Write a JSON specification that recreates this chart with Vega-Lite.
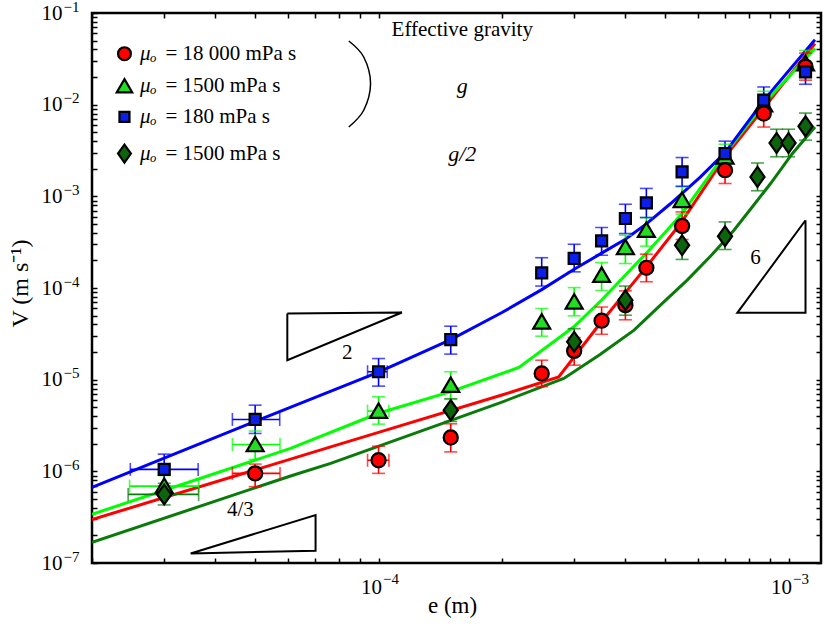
{
"$schema": "https://vega.github.io/schema/vega-lite/v6.json",
"width": 729, "height": 550,
"autosize": "none",
"padding": {"left": 92, "top": 13, "right": 5, "bottom": 69},
"background": "white",
"config": {
  "font": "Liberation Serif",
  "view": {"stroke": "black", "strokeWidth": 2.5},
  "axis": {"domain": false, "grid": false, "tickColor": "black", "tickWidth": 1.5, "labelColor": "black", "titleColor": "black", "labelFontSize": 21, "titleFontSize": 23, "titleFontWeight": "normal", "labelOverlap": false, "labelFlush": false, "labelFont": "Liberation Serif", "titleFont": "Liberation Serif", "labelLimit": 0},
  "text": {"font": "Liberation Serif", "fontSize": 21, "color": "black"}
},
"datasets": {
  "pts": [
    {"s":"G","e":3e-5,"V":6.9e-7,"lo":5.3e-7,"hi":9.0e-7,"elo":2.47e-5,"ehi":3.64e-5},
    {"s":"G","e":5e-5,"V":1.96e-6,"lo":1.35e-6,"hi":2.75e-6,"elo":4.4e-5,"ehi":5.75e-5},
    {"s":"G","e":1e-4,"V":4.54e-6,"lo":3.27e-6,"hi":6.5e-6,"elo":9.4e-5,"ehi":1.06e-4},
    {"s":"G","e":1.5e-4,"V":8.7e-6,"lo":6.1e-6,"hi":1.22e-5},
    {"s":"G","e":2.5e-4,"V":4.27e-5,"lo":2.98e-5,"hi":5.97e-5},
    {"s":"G","e":3e-4,"V":7.05e-5,"lo":4.97e-5,"hi":1.01e-4},
    {"s":"G","e":3.5e-4,"V":1.38e-4,"lo":9.4e-5,"hi":1.89e-4},
    {"s":"G","e":4e-4,"V":2.77e-4,"lo":1.85e-4,"hi":3.77e-4},
    {"s":"G","e":4.5e-4,"V":4.27e-4,"lo":2.86e-4,"hi":5.87e-4},
    {"s":"G","e":5.5e-4,"V":9.05e-4,"lo":6.4e-4,"hi":1.27e-3},
    {"s":"G","e":7e-4,"V":2.69e-3,"lo":1.9e-3,"hi":3.7e-3},
    {"s":"G","e":8.7e-4,"V":1.0e-2,"lo":7.0e-3,"hi":1.4e-2},
    {"s":"G","e":1.1e-3,"V":2.8e-2,"lo":2.0e-2,"hi":3.9e-2},
    {"s":"R","e":5e-5,"V":9.5e-7,"lo":6.8e-7,"hi":1.2e-6,"elo":4.4e-5,"ehi":5.75e-5},
    {"s":"R","e":1e-4,"V":1.32e-6,"lo":9.5e-7,"hi":1.88e-6,"elo":9.4e-5,"ehi":1.06e-4},
    {"s":"R","e":1.5e-4,"V":2.34e-6,"lo":1.63e-6,"hi":3.3e-6},
    {"s":"R","e":2.5e-4,"V":1.17e-5,"lo":8.4e-6,"hi":1.63e-5},
    {"s":"R","e":3e-4,"V":2.06e-5,"lo":1.44e-5,"hi":2.88e-5},
    {"s":"R","e":3.5e-4,"V":4.4e-5,"lo":3.13e-5,"hi":6.2e-5},
    {"s":"R","e":4e-4,"V":6.5e-5,"lo":4.5e-5,"hi":9.3e-5},
    {"s":"R","e":4.5e-4,"V":1.66e-4,"lo":1.17e-4,"hi":2.34e-4},
    {"s":"R","e":5.5e-4,"V":4.75e-4,"lo":3.38e-4,"hi":6.76e-4},
    {"s":"R","e":7e-4,"V":1.93e-3,"lo":1.38e-3,"hi":2.69e-3},
    {"s":"R","e":8.7e-4,"V":8.0e-3,"lo":5.7e-3,"hi":1.12e-2},
    {"s":"R","e":1.1e-3,"V":2.6e-2,"lo":1.85e-2,"hi":3.65e-2},
    {"s":"B","e":3e-5,"V":1.05e-6,"lo":6.9e-7,"hi":1.54e-6,"elo":2.48e-5,"ehi":3.63e-5},
    {"s":"B","e":5e-5,"V":3.68e-6,"lo":2.59e-6,"hi":5.27e-6,"elo":4.4e-5,"ehi":5.74e-5},
    {"s":"B","e":1e-4,"V":1.22e-5,"lo":8.5e-6,"hi":1.7e-5,"elo":9.4e-5,"ehi":1.05e-4},
    {"s":"B","e":1.5e-4,"V":2.74e-5,"lo":1.9e-5,"hi":3.83e-5},
    {"s":"B","e":2.5e-4,"V":1.46e-4,"lo":1.05e-4,"hi":2.14e-4},
    {"s":"B","e":3e-4,"V":2.1e-4,"lo":1.5e-4,"hi":3.0e-4},
    {"s":"B","e":3.5e-4,"V":3.27e-4,"lo":2.28e-4,"hi":4.57e-4},
    {"s":"B","e":4e-4,"V":5.73e-4,"lo":3.93e-4,"hi":8.2e-4},
    {"s":"B","e":4.5e-4,"V":8.47e-4,"lo":5.87e-4,"hi":1.22e-3},
    {"s":"B","e":5.5e-4,"V":1.85e-3,"lo":1.29e-3,"hi":2.65e-3},
    {"s":"B","e":7e-4,"V":2.93e-3,"lo":2.05e-3,"hi":4.0e-3},
    {"s":"B","e":8.7e-4,"V":1.12e-2,"lo":7.8e-3,"hi":1.56e-2},
    {"s":"B","e":1.1e-3,"V":2.28e-2,"lo":1.67e-2,"hi":2.8e-2},
    {"s":"D","e":3e-5,"V":5.6e-7,"lo":4.3e-7,"hi":7.4e-7,"elo":2.45e-5,"ehi":3.64e-5},
    {"s":"D","e":1.5e-4,"V":4.65e-6,"lo":3.5e-6,"hi":6.2e-6},
    {"s":"D","e":3e-4,"V":2.59e-5,"lo":1.85e-5,"hi":3.6e-5},
    {"s":"D","e":4e-4,"V":7.36e-5,"lo":5.05e-5,"hi":1.05e-4},
    {"s":"D","e":5.5e-4,"V":2.93e-4,"lo":2.05e-4,"hi":4.2e-4},
    {"s":"D","e":7e-4,"V":3.67e-4,"lo":2.63e-4,"hi":5.26e-4},
    {"s":"D","e":8.4e-4,"V":1.63e-3,"lo":1.15e-3,"hi":2.31e-3},
    {"s":"D","e":9.35e-4,"V":3.82e-3,"lo":2.7e-3,"hi":5.4e-3},
    {"s":"D","e":1e-3,"V":3.82e-3,"lo":2.7e-3,"hi":5.4e-3},
    {"s":"D","e":1.1e-3,"V":5.8e-3,"lo":4.1e-3,"hi":8.1e-3}
  ],
  "lines": [
    {"s":"D","e":2e-5,"V":1.68e-7},{"s":"D","e":6.1e-5,"V":8.9e-7},{"s":"D","e":7.64e-5,"V":1.22e-6},{"s":"D","e":2e-4,"V":5.7e-6},{"s":"D","e":2.83e-4,"V":1.03e-5},{"s":"D","e":3.47e-4,"V":1.88e-5},{"s":"D","e":4.2e-4,"V":3.47e-5},{"s":"D","e":4.87e-4,"V":6.5e-5},{"s":"D","e":5.66e-4,"V":1.22e-4},{"s":"D","e":6.5e-4,"V":2.3e-4},{"s":"D","e":7.36e-4,"V":4.27e-4},{"s":"D","e":8.2e-4,"V":7.9e-4},{"s":"D","e":9.04e-4,"V":1.38e-3},{"s":"D","e":1.02e-3,"V":2.9e-3},{"s":"D","e":1.16e-3,"V":5.71e-3},
    {"s":"R","e":2e-5,"V":2.98e-7},{"s":"R","e":6.1e-5,"V":1.36e-6},{"s":"R","e":7.64e-5,"V":1.85e-6},{"s":"R","e":1e-4,"V":2.66e-6},{"s":"R","e":2e-4,"V":6.8e-6},{"s":"R","e":2.75e-4,"V":1.07e-5},{"s":"R","e":3.47e-4,"V":4.1e-5},{"s":"R","e":4.5e-4,"V":1.7e-4},{"s":"R","e":5.45e-4,"V":5.05e-4},{"s":"R","e":7e-4,"V":2.69e-3},{"s":"R","e":1.16e-3,"V":4.64e-2},
    {"s":"G","e":2e-5,"V":3.4e-7},{"s":"G","e":6.1e-5,"V":1.78e-6},{"s":"G","e":1e-4,"V":4.3e-6},{"s":"G","e":1.5e-4,"V":7.4e-6},{"s":"G","e":2.2e-4,"V":1.36e-5},{"s":"G","e":3e-4,"V":3.8e-5},{"s":"G","e":3.5e-4,"V":7.4e-5},{"s":"G","e":4.5e-4,"V":2.4e-4},{"s":"G","e":5.5e-4,"V":6.5e-4},{"s":"G","e":7e-4,"V":2.9e-3},{"s":"G","e":8.75e-4,"V":1.05e-2},{"s":"G","e":1.16e-3,"V":4.1e-2},
    {"s":"B","e":2e-5,"V":6.7e-7},{"s":"B","e":3e-5,"V":1.39e-6},{"s":"B","e":5e-5,"V":3.5e-6},{"s":"B","e":1e-4,"V":1.21e-5},{"s":"B","e":1.5e-4,"V":2.74e-5},{"s":"B","e":2e-4,"V":5.4e-5},{"s":"B","e":2.5e-4,"V":9.6e-5},{"s":"B","e":3e-4,"V":1.6e-4},{"s":"B","e":3.5e-4,"V":2.4e-4},{"s":"B","e":4e-4,"V":3.4e-4},{"s":"B","e":4.5e-4,"V":5e-4},{"s":"B","e":5.15e-4,"V":8.3e-4},{"s":"B","e":6.1e-4,"V":1.63e-3},{"s":"B","e":7e-4,"V":3.0e-3},{"s":"B","e":8.75e-4,"V":1.15e-2},{"s":"B","e":1.16e-3,"V":5.1e-2}
  ],
  "tri": [
    {"t":"a","k":1,"e":5.99e-5,"V":5.27e-5},{"t":"a","k":2,"e":1.14e-4,"V":5.4e-5},{"t":"a","k":3,"e":5.99e-5,"V":1.63e-5},{"t":"a","k":4,"e":5.99e-5,"V":5.27e-5},
    {"t":"b","k":1,"e":3.48e-5,"V":1.27e-7},{"t":"b","k":2,"e":7.02e-5,"V":3.33e-7},{"t":"b","k":3,"e":7.02e-5,"V":1.36e-7},{"t":"b","k":4,"e":3.48e-5,"V":1.27e-7},
    {"t":"c","k":1,"e":1.1e-3,"V":5.48e-4},{"t":"c","k":2,"e":7.5e-4,"V":5.36e-5},{"t":"c","k":3,"e":1.1e-3,"V":5.36e-5},{"t":"c","k":4,"e":1.1e-3,"V":5.48e-4}
  ],
  "bracket": [
    {"k":1,"e":8.46e-5,"V":4.95e-2},{"k":2,"e":9.2e-5,"V":3.31e-2},{"k":3,"e":9.56e-5,"V":1.7e-2},{"k":4,"e":9.2e-5,"V":8.69e-3},{"k":5,"e":8.46e-5,"V":5.71e-3}
  ],
  "leg": [
    {"s":"R","txt":"= 18 000 mPa  s","V":3.6e-2},
    {"s":"G","txt":"= 1500 mPa  s","V":1.59e-2},
    {"s":"B","txt":"= 180 mPa  s","V":7.35e-3},
    {"s":"D","txt":"= 1500 mPa  s","V":2.93e-3}
  ]
},
"layer": [
  {
    "data": {"values": [{"e": 1e-4, "V": 1e-4}]},
    "mark": {"type": "point", "opacity": 0},
    "encoding": {
      "x": {"field": "e", "type": "quantitative", "scale": {"type": "log", "domain": [2e-5, 1.2e-3], "nice": false},
        "axis": {"orient": "bottom", "values": [2e-5,3e-5,4e-5,5e-5,6e-5,7e-5,8e-5,9e-5,1e-4,2e-4,3e-4,4e-4,5e-4,6e-4,7e-4,8e-4,9e-4,1e-3],
          "labelExpr": "abs(log(datum.value)/LN10-round(log(datum.value)/LN10))<0.001 ? '10' : ''",
          "tickSize": -5, "labelAlign": "right", "labelOffset": 3, "labelBaseline": "top",
          "labelFontSize": 21, "labelPadding": 18, "title": "e (m)", "titleFontSize": 23, "titleX": 360, "titleY": 42, "titleAlign": "center", "titleBaseline": "middle"}},
      "y": {"field": "V", "type": "quantitative", "scale": {"type": "log", "domain": [1e-7, 1e-1], "nice": false},
        "axis": {"orient": "left", "values": [1e-7,2e-7,3e-7,4e-7,5e-7,6e-7,7e-7,8e-7,9e-7,1e-6,2e-6,3e-6,4e-6,5e-6,6e-6,7e-6,8e-6,9e-6,1e-5,2e-5,3e-5,4e-5,5e-5,6e-5,7e-5,8e-5,9e-5,1e-4,2e-4,3e-4,4e-4,5e-4,6e-4,7e-4,8e-4,9e-4,1e-3,2e-3,3e-3,4e-3,5e-3,6e-3,7e-3,8e-3,9e-3,1e-2,2e-2,3e-2,4e-2,5e-2,6e-2,7e-2,8e-2,9e-2,1e-1],
          "labelExpr": "abs(log(datum.value)/LN10-round(log(datum.value)/LN10))<0.001 ? '10' : ''",
          "tickSize": -5, "labelAlign": "right", "labelBaseline": "middle",
          "labelFontSize": 21, "labelPadding": 35, "title": "V (m s⁻¹)", "titleFontSize": 24, "titleX": -72, "titleY": 270, "titleAngle": -90, "titleAlign": "center", "titleBaseline": "middle"}}
    }
  },
  {
    "data": {"values": [{"e": 1e-4, "V": 1e-4}]},
    "mark": {"type": "point", "opacity": 0},
    "encoding": {
      "x": {"field": "e", "type": "quantitative", "scale": {"type": "log", "domain": [2e-5, 1.2e-3], "nice": false},
        "axis": {"orient": "bottom", "values": [1e-4, 1e-3],
          "labelExpr": "round(log(datum.value)/LN10)==-4 ? '−4' : '−3'",
          "tickSize": -5, "tickOpacity": 0, "labelAlign": "left", "labelOffset": 4, "labelBaseline": "top",
          "labelFontSize": 15, "labelPadding": 13, "title": null}},
      "y": {"field": "V", "type": "quantitative", "scale": {"type": "log", "domain": [1e-7, 1e-1], "nice": false},
        "axis": {"orient": "left", "values": [1e-7,1e-6,1e-5,1e-4,1e-3,1e-2,1e-1],
          "labelExpr": "['−7','−6','−5','−4','−3','−2','−1'][round(log(datum.value)/LN10)+7]",
          "tickSize": -5, "tickOpacity": 0, "labelAlign": "left", "labelBaseline": "middle", "labelOffset": -7,
          "labelFontSize": 15, "labelPadding": 34, "title": null}}
    }
  },
  {
    "data": {"values": [{"e": 1e-4, "V": 1e-4}]},
    "mark": {"type": "point", "opacity": 0},
    "encoding": {
      "x": {"field": "e", "type": "quantitative", "scale": {"type": "log", "domain": [2e-5, 1.2e-3], "nice": false},
        "axis": {"orient": "top", "values": [2e-5,3e-5,4e-5,5e-5,6e-5,7e-5,8e-5,9e-5,1e-4,2e-4,3e-4,4e-4,5e-4,6e-4,7e-4,8e-4,9e-4,1e-3], "labels": false, "title": null, "tickSize": -5}},
      "y": {"field": "V", "type": "quantitative", "scale": {"type": "log", "domain": [1e-7, 1e-1], "nice": false},
        "axis": {"orient": "right", "values": [1e-7,2e-7,3e-7,4e-7,5e-7,6e-7,7e-7,8e-7,9e-7,1e-6,2e-6,3e-6,4e-6,5e-6,6e-6,7e-6,8e-6,9e-6,1e-5,2e-5,3e-5,4e-5,5e-5,6e-5,7e-5,8e-5,9e-5,1e-4,2e-4,3e-4,4e-4,5e-4,6e-4,7e-4,8e-4,9e-4,1e-3,2e-3,3e-3,4e-3,5e-3,6e-3,7e-3,8e-3,9e-3,1e-2,2e-2,3e-2,4e-2,5e-2,6e-2,7e-2,8e-2,9e-2,1e-1], "labels": false, "title": null, "tickSize": -5}}
    }
  },
  {
    "data": {"name": "tri"},
    "mark": {"type": "line", "color": "black", "strokeWidth": 2, "strokeJoin": "miter"},
    "encoding": {
      "x": {"field": "e", "type": "quantitative", "scale": {"type": "log", "domain": [2e-5, 1.2e-3], "nice": false}, "axis": null},
      "y": {"field": "V", "type": "quantitative", "scale": {"type": "log", "domain": [1e-7, 1e-1], "nice": false}, "axis": null},
      "detail": {"field": "t"},
      "order": {"field": "k", "type": "quantitative"}
    }
  },
  {
    "data": {"name": "bracket"},
    "mark": {"type": "line", "color": "black", "strokeWidth": 1.5, "interpolate": "cardinal"},
    "encoding": {
      "x": {"field": "e", "type": "quantitative", "scale": {"type": "log", "domain": [2e-5, 1.2e-3], "nice": false}, "axis": null},
      "y": {"field": "V", "type": "quantitative", "scale": {"type": "log", "domain": [1e-7, 1e-1], "nice": false}, "axis": null},
      "order": {"field": "k", "type": "quantitative"}
    }
  },
  {
    "data": {"name": "lines"},
    "mark": {"type": "line", "strokeWidth": 3, "clip": true},
    "encoding": {
      "x": {"field": "e", "type": "quantitative", "scale": {"type": "log", "domain": [2e-5, 1.2e-3], "nice": false}, "axis": null},
      "y": {"field": "V", "type": "quantitative", "scale": {"type": "log", "domain": [1e-7, 1e-1], "nice": false}, "axis": null},
      "color": {"field": "s", "type": "nominal", "scale": {"domain": ["R","G","B","D"], "range": ["#ff0000","#00ff00","#0000ff","#0a7a0a"]}, "legend": null}
    }
  },
  {
    "data": {"name": "pts"},
    "mark": {"type": "rule", "strokeWidth": 1.6},
    "encoding": {
      "x": {"field": "e", "type": "quantitative", "scale": {"type": "log", "domain": [2e-5, 1.2e-3], "nice": false}, "axis": null},
      "y": {"field": "lo", "type": "quantitative", "scale": {"type": "log", "domain": [1e-7, 1e-1], "nice": false}, "axis": null},
      "y2": {"field": "hi"},
      "color": {"field": "s", "type": "nominal", "scale": {"domain": ["R","G","B","D"], "range": ["#ff0000","#00ff00","#0000ff","#0a7a0a"]}, "legend": null}
    }
  },
  {
    "data": {"name": "pts"},
    "transform": [{"fold": ["lo", "hi"], "as": ["which", "val"]}],
    "mark": {"type": "tick", "orient": "horizontal", "size": 13, "thickness": 1.6},
    "encoding": {
      "x": {"field": "e", "type": "quantitative", "scale": {"type": "log", "domain": [2e-5, 1.2e-3], "nice": false}, "axis": null},
      "y": {"field": "val", "type": "quantitative", "scale": {"type": "log", "domain": [1e-7, 1e-1], "nice": false}, "axis": null},
      "color": {"field": "s", "type": "nominal", "scale": {"domain": ["R","G","B","D"], "range": ["#ff0000","#00ff00","#0000ff","#0a7a0a"]}, "legend": null}
    }
  },
  {
    "data": {"name": "pts"},
    "transform": [{"filter": "isValid(datum.elo)"}],
    "mark": {"type": "rule", "strokeWidth": 1.6},
    "encoding": {
      "x": {"field": "elo", "type": "quantitative", "scale": {"type": "log", "domain": [2e-5, 1.2e-3], "nice": false}, "axis": null},
      "x2": {"field": "ehi"},
      "y": {"field": "V", "type": "quantitative", "scale": {"type": "log", "domain": [1e-7, 1e-1], "nice": false}, "axis": null},
      "color": {"field": "s", "type": "nominal", "scale": {"domain": ["R","G","B","D"], "range": ["#ff0000","#00ff00","#0000ff","#0a7a0a"]}, "legend": null}
    }
  },
  {
    "data": {"name": "pts"},
    "transform": [{"filter": "isValid(datum.elo)"}, {"fold": ["elo", "ehi"], "as": ["which", "val"]}],
    "mark": {"type": "tick", "orient": "vertical", "size": 13, "thickness": 1.6},
    "encoding": {
      "x": {"field": "val", "type": "quantitative", "scale": {"type": "log", "domain": [2e-5, 1.2e-3], "nice": false}, "axis": null},
      "y": {"field": "V", "type": "quantitative", "scale": {"type": "log", "domain": [1e-7, 1e-1], "nice": false}, "axis": null},
      "color": {"field": "s", "type": "nominal", "scale": {"domain": ["R","G","B","D"], "range": ["#ff0000","#00ff00","#0000ff","#0a7a0a"]}, "legend": null}
    }
  },
  {
    "data": {"name": "pts"},
    "mark": {"type": "point", "filled": true, "stroke": "black", "strokeWidth": 2.2, "opacity": 1, "size": 200},
    "encoding": {
      "x": {"field": "e", "type": "quantitative", "scale": {"type": "log", "domain": [2e-5, 1.2e-3], "nice": false}, "axis": null},
      "y": {"field": "V", "type": "quantitative", "scale": {"type": "log", "domain": [1e-7, 1e-1], "nice": false}, "axis": null},
      "fill": {"field": "s", "type": "nominal", "scale": {"domain": ["R","G","B","D"], "range": ["#ff0000","#22dd22","#0b1fe8","#0d640d"]}, "legend": null},
      "shape": {"field": "s", "type": "nominal", "scale": {"domain": ["R","G","B","D"], "range": ["circle","M0,-1.1L1.2,0.95L-1.2,0.95Z","M-0.78,-0.78L0.78,-0.78L0.78,0.78L-0.78,0.78Z","M0,-1.4L1,0L0,1.4L-1,0Z"]}, "legend": null}
    }
  },
  {
    "data": {"name": "leg"},
    "mark": {"type": "point", "filled": true, "stroke": "black", "strokeWidth": 2.2, "opacity": 1, "size": 165},
    "encoding": {
      "x": {"datum": 2.4e-5, "type": "quantitative", "scale": {"type": "log", "domain": [2e-5, 1.2e-3], "nice": false}, "axis": null},
      "y": {"field": "V", "type": "quantitative", "scale": {"type": "log", "domain": [1e-7, 1e-1], "nice": false}, "axis": null},
      "fill": {"field": "s", "type": "nominal", "scale": {"domain": ["R","G","B","D"], "range": ["#ff0000","#22dd22","#0b1fe8","#0d640d"]}, "legend": null},
      "shape": {"field": "s", "type": "nominal", "scale": {"domain": ["R","G","B","D"], "range": ["circle","M0,-1.1L1.2,0.95L-1.2,0.95Z","M-0.78,-0.78L0.78,-0.78L0.78,0.78L-0.78,0.78Z","M0,-1.4L1,0L0,1.4L-1,0Z"]}, "legend": null}
    }
  },
  {
    "data": {"name": "leg"},
    "mark": {"type": "text", "text": "μₒ", "fontSize": 21, "fontStyle": "italic", "align": "left", "baseline": "middle", "color": "black"},
    "encoding": {
      "x": {"datum": 2.62e-5, "type": "quantitative", "scale": {"type": "log", "domain": [2e-5, 1.2e-3], "nice": false}, "axis": null},
      "y": {"field": "V", "type": "quantitative", "scale": {"type": "log", "domain": [1e-7, 1e-1], "nice": false}, "axis": null}
    }
  },
  {
    "data": {"name": "leg"},
    "mark": {"type": "text", "fontSize": 21, "align": "left", "baseline": "middle", "color": "black"},
    "encoding": {
      "x": {"datum": 3.02e-5, "type": "quantitative", "scale": {"type": "log", "domain": [2e-5, 1.2e-3], "nice": false}, "axis": null},
      "y": {"field": "V", "type": "quantitative", "scale": {"type": "log", "domain": [1e-7, 1e-1], "nice": false}, "axis": null},
      "text": {"field": "txt"}
    }
  },
  {
    "data": {"values": [{}]},
    "mark": {"type": "text", "text": "Effective gravity", "fontSize": 21, "align": "center", "baseline": "middle", "color": "black"},
    "encoding": {
      "x": {"datum": 1.6e-4, "type": "quantitative", "scale": {"type": "log", "domain": [2e-5, 1.2e-3], "nice": false}, "axis": null},
      "y": {"datum": 6.48e-2, "type": "quantitative", "scale": {"type": "log", "domain": [1e-7, 1e-1], "nice": false}, "axis": null}
    }
  },
  {
    "data": {"values": [{}]},
    "mark": {"type": "text", "text": "g", "fontSize": 22, "fontStyle": "italic", "align": "center", "baseline": "middle", "color": "black"},
    "encoding": {
      "x": {"datum": 1.6e-4, "type": "quantitative", "scale": {"type": "log", "domain": [2e-5, 1.2e-3], "nice": false}, "axis": null},
      "y": {"datum": 1.59e-2, "type": "quantitative", "scale": {"type": "log", "domain": [1e-7, 1e-1], "nice": false}, "axis": null}
    }
  },
  {
    "data": {"values": [{}]},
    "mark": {"type": "text", "text": "g/2", "fontSize": 22, "fontStyle": "italic", "align": "center", "baseline": "middle", "color": "black"},
    "encoding": {
      "x": {"datum": 1.6e-4, "type": "quantitative", "scale": {"type": "log", "domain": [2e-5, 1.2e-3], "nice": false}, "axis": null},
      "y": {"datum": 2.93e-3, "type": "quantitative", "scale": {"type": "log", "domain": [1e-7, 1e-1], "nice": false}, "axis": null}
    }
  },
  {
    "data": {"values": [{}]},
    "mark": {"type": "text", "text": "2", "fontSize": 21, "align": "center", "baseline": "middle", "color": "black"},
    "encoding": {
      "x": {"datum": 8.39e-5, "type": "quantitative", "scale": {"type": "log", "domain": [2e-5, 1.2e-3], "nice": false}, "axis": null},
      "y": {"datum": 1.93e-5, "type": "quantitative", "scale": {"type": "log", "domain": [1e-7, 1e-1], "nice": false}, "axis": null}
    }
  },
  {
    "data": {"values": [{}]},
    "mark": {"type": "text", "text": "4/3", "fontSize": 21, "align": "center", "baseline": "middle", "color": "black"},
    "encoding": {
      "x": {"datum": 4.6e-5, "type": "quantitative", "scale": {"type": "log", "domain": [2e-5, 1.2e-3], "nice": false}, "axis": null},
      "y": {"datum": 3.78e-7, "type": "quantitative", "scale": {"type": "log", "domain": [1e-7, 1e-1], "nice": false}, "axis": null}
    }
  },
  {
    "data": {"values": [{}]},
    "mark": {"type": "text", "text": "6", "fontSize": 21, "align": "center", "baseline": "middle", "color": "black"},
    "encoding": {
      "x": {"datum": 8.31e-4, "type": "quantitative", "scale": {"type": "log", "domain": [2e-5, 1.2e-3], "nice": false}, "axis": null},
      "y": {"datum": 2.1e-4, "type": "quantitative", "scale": {"type": "log", "domain": [1e-7, 1e-1], "nice": false}, "axis": null}
    }
  }
],
"resolve": {"axis": {"x": "independent", "y": "independent"}}
}
